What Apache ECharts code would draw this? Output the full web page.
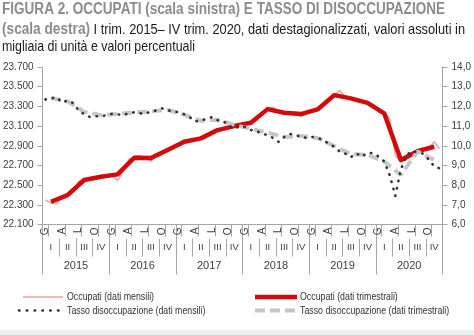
<!DOCTYPE html>
<html>
<head>
<meta charset="utf-8">
<script src="https://cdn.jsdelivr.net/npm/echarts@6/dist/echarts.min.js"></script>
<style>
  html, body { margin: 0; padding: 0; background: #fff; }
  #chart { width: 474px; height: 335px; }
</style>
</head>
<body>
<div id="chart"></div>
<script>
// Occupati (migliaia) e tasso di disoccupazione (%), gen 2015 - dic 2020
const years = ['2015', '2016', '2017', '2018', '2019', '2020'];
const quarterNames = ['I', 'II', 'III', 'IV'];
const monthLetters = ['G', 'F', 'M', 'A', 'M', 'G', 'L', 'A', 'S', 'O', 'N', 'D'];

// Occupati, dati mensili
const occupatiMensili = [
  22350, 22320, 22310, 22380, 22400, 22430, 22540, 22555, 22565, 22580, 22585, 22590,
  22610, 22545, 22640, 22760, 22790, 22800, 22780, 22740, 22800, 22830, 22860, 22880,
  22910, 22960, 22940, 22960, 22975, 22990, 23040, 23060, 23075, 23090, 23100, 23110,
  23120, 23135, 23160, 23230, 23280, 23290, 23240, 23235, 23230, 23230, 23195, 23235,
  23255, 23270, 23300, 23380, 23420, 23460, 23400, 23380, 23365, 23350, 23330, 23320,
  23240, 23245, 23170, 22800, 22735, 22760, 22810, 22850, 22880, 22880, 22940, 22870
];
// Occupati, dati trimestrali
const occupatiTrimestrali = [
  22331, 22399, 22552, 22585,
  22609, 22778, 22775, 22856,
  22940, 22975, 23059, 23100,
  23133, 23272, 23235, 23222,
  23269, 23414, 23381, 23336,
  23229, 22755, 22845, 22890
];
// Tasso di disoccupazione, dati mensili
const tassoMensili = [
  12.35, 12.40, 12.47, 12.20, 12.30, 12.17, 11.79, 11.60, 11.46, 11.50, 11.50, 11.55,
  11.62, 11.60, 11.55, 11.65, 11.70, 11.65, 11.62, 11.75, 11.79, 11.90, 11.80, 11.75,
  11.70, 11.60, 11.45, 11.23, 11.30, 11.35, 11.46, 11.30, 11.25, 11.05, 10.86, 11.00,
  10.95, 10.80, 10.75, 10.60, 10.55, 10.40, 10.20, 10.45, 10.60, 10.55, 10.45, 10.40,
  10.45, 10.40, 10.30, 10.10, 9.95, 9.70, 9.60, 9.42, 9.62, 9.45, 9.65, 9.62,
  9.45, 9.20, 8.50, 7.45, 8.80, 9.50, 9.75, 9.65, 9.60, 9.30, 8.95, 8.85
];
// Tasso di disoccupazione, dati trimestrali
const tassoTrimestrali = [
  12.41, 12.26, 11.72, 11.55,
  11.62, 11.69, 11.74, 11.83,
  11.57, 11.27, 11.32, 11.06,
  10.86, 10.67, 10.44, 10.50,
  10.39, 9.99, 9.57, 9.54,
  9.20, 8.52, 9.71, 9.28
];

const monthCats = [];
const quarterCats = [];
years.forEach(y => {
  monthLetters.forEach((m, i) => monthCats.push(m + ' ' + (i + 1) + ' ' + y));
  quarterNames.forEach(q => quarterCats.push(q + ' ' + y));
});
// quarterly values sit on the central month of each quarter
const onMidMonth = arr => arr.map((v, q) => [q * 3 + 1, v]);

const FAMILY = "'Liberation Sans', Arial, sans-serif";
const AXIS_GRAY = '#a6a6a6';
const LABEL = '#404040';

const C_PINK = '#e9a3a3';
const C_RED = '#d20a0a';
const C_GRAY = '#c6c6c6';
const C_DOT = '#333333';

// condensed look: squeeze a text line horizontally to a given width
const measureCtx = document.createElement('canvas').getContext('2d');
function textWidth(str, size, weight) {
  measureCtx.font = (weight || 'normal') + ' ' + size + 'px ' + FAMILY;
  return measureCtx.measureText(str).width;
}

const title1 = 'FIGURA 2. OCCUPATI (scala sinistra) E TASSO DI DISOCCUPAZIONE';
const title2b = '(scala destra)';
const title2n = ' I trim. 2015\u2013 IV trim. 2020, dati destagionalizzati, valori assoluti in';
const title3 = 'migliaia di unit\u00e0 e valori percentuali';

const s1 = 443 / textWidth(title1, 16, 'bold');
const s2 = 463 / (textWidth(title2b, 16, 'bold') + textWidth(title2n, 15));
const s3 = 193 / textWidth(title3, 15);

const legendFont = { fontFamily: FAMILY, fontSize: 11, fill: '#333333' };
const LEG_SCALE = 0.8;

function legendText(x, y, str) {
  return {
    type: 'text', x: x, y: y, scaleX: LEG_SCALE,
    style: Object.assign({ text: str, textVerticalAlign: 'middle', verticalAlign: 'middle' }, legendFont)
  };
}

const chart = echarts.init(document.getElementById('chart'), null, { renderer: 'canvas' });

chart.setOption({
  animation: false,
  backgroundColor: '#ffffff',
  textStyle: { fontFamily: FAMILY },
  graphic: [
    {
      type: 'text', x: 2, y: 2, scaleX: s1,
      style: { text: title1, fontFamily: FAMILY, fontWeight: 'bold', fontSize: 16, fill: '#8c8c8c' }
    },
    {
      type: 'text', x: 2, y: 22, scaleX: s2,
      style: {
        rich: {
          b: { fontFamily: FAMILY, fontWeight: 'bold', fontSize: 16, fill: '#8c8c8c' },
          n: { fontFamily: FAMILY, fontSize: 15, fill: '#1a1a1a' }
        },
        text: '{b|' + title2b + '}{n|' + title2n + '}'
      }
    },
    {
      type: 'text', x: 2, y: 39, scaleX: s3,
      style: { text: title3, fontFamily: FAMILY, fontSize: 15, fill: '#1a1a1a' }
    },
    // legend, left column
    { type: 'line', shape: { x1: 23, y1: 297, x2: 63, y2: 297 }, style: { stroke: C_PINK, lineWidth: 1.5 } },
    legendText(67, 297, 'Occupati (dati mensili)'),
    { type: 'line', shape: { x1: 19, y1: 310.5, x2: 63, y2: 310.5 },
      style: { stroke: C_DOT, lineWidth: 2.6, lineDash: [0.5, 7.3], lineCap: 'round' } },
    legendText(67, 310.5, 'Tasso disoccupazione (dati mensili)'),
    // legend, right column
    { type: 'line', shape: { x1: 255, y1: 297, x2: 297, y2: 297 }, style: { stroke: C_RED, lineWidth: 4.5 } },
    legendText(300, 297, 'Occupati (dati trimestrali)'),
    { type: 'line', shape: { x1: 255, y1: 310.5, x2: 297, y2: 310.5 },
      style: { stroke: C_GRAY, lineWidth: 4, lineDash: [10, 5] } },
    legendText(300, 310.5, 'Tasso disoccupazione (dati trimestrali)'),
    {
      type: 'rect', x: 0, y: 330,
      shape: { width: 474, height: 5 },
      style: { fill: '#ededed' }
    }
  ],
  grid: { left: 42, right: 31, top: 67, bottom: 110.5 },
  xAxis: [
    {
      type: 'category', data: monthCats, boundaryGap: true, position: 'bottom',
      axisLine: { show: true, lineStyle: { color: AXIS_GRAY, width: 1 } },
      axisTick: { show: true, length: 12, interval: i => i % 3 === 1, lineStyle: { color: AXIS_GRAY } },
      axisLabel: {
        interval: i => i % 3 === 0, rotate: 90, margin: 3,
        fontFamily: FAMILY, fontSize: 10, color: LABEL,
        formatter: v => v.charAt(0)
      },
      splitLine: { show: false }
    },
    {
      type: 'category', data: quarterCats, boundaryGap: true, position: 'bottom', offset: 14,
      axisLine: { show: false },
      axisTick: { show: true, length: 18, interval: 0, lineStyle: { color: AXIS_GRAY } },
      axisLabel: {
        interval: 0, margin: 4, fontFamily: FAMILY, fontSize: 9.5, color: LABEL,
        formatter: v => v.split(' ')[0]
      },
      splitLine: { show: false }
    },
    {
      type: 'category', data: years, boundaryGap: true, position: 'bottom', offset: 0,
      axisLine: { show: false },
      axisTick: { show: true, length: 50, interval: 0, lineStyle: { color: AXIS_GRAY } },
      axisLabel: { interval: 0, margin: 36, fontFamily: FAMILY, fontSize: 11, color: LABEL },
      splitLine: { show: false }
    }
  ],
  yAxis: [
    {
      type: 'value', min: 22100, max: 23700, interval: 200, position: 'left',
      axisLine: { show: true, lineStyle: { color: AXIS_GRAY } },
      axisTick: { show: true, length: 5, lineStyle: { color: AXIS_GRAY } },
      splitLine: { show: false },
      axisLabel: {
        margin: 9, fontFamily: FAMILY, fontSize: 10, color: LABEL,
        formatter: v => String(v).replace(/\B(?=(\d{3})+(?!\d))/g, '.')
      }
    },
    {
      type: 'value', min: 6, max: 14, interval: 1, position: 'right',
      axisLine: { show: true, lineStyle: { color: AXIS_GRAY } },
      axisTick: { show: true, length: 5, lineStyle: { color: AXIS_GRAY } },
      splitLine: { show: false },
      axisLabel: {
        margin: 9, fontFamily: FAMILY, fontSize: 10, color: LABEL,
        formatter: v => v.toFixed(1).replace('.', ',')
      }
    }
  ],
  series: [
    {
      name: 'Occupati (dati mensili)', type: 'line', xAxisIndex: 0, yAxisIndex: 0,
      data: occupatiMensili, symbol: 'none', z: 2,
      lineStyle: { color: C_PINK, width: 1.5 }
    },
    {
      name: 'Occupati (dati trimestrali)', type: 'line', xAxisIndex: 0, yAxisIndex: 0,
      data: onMidMonth(occupatiTrimestrali), symbol: 'none', z: 3,
      lineStyle: { color: C_RED, width: 4.5, join: 'round' }
    },
    {
      name: 'Tasso disoccupazione (dati trimestrali)', type: 'line', xAxisIndex: 0, yAxisIndex: 1,
      data: onMidMonth(tassoTrimestrali), symbol: 'none', z: 4,
      lineStyle: { color: C_GRAY, width: 4, type: [10, 5] }
    },
    {
      name: 'Tasso disoccupazione (dati mensili)', type: 'line', xAxisIndex: 0, yAxisIndex: 1,
      data: tassoMensili, symbol: 'none', z: 5,
      lineStyle: { color: C_DOT, width: 2.6, type: [0.5, 7], cap: 'round' }
    }
  ]
});
</script>
</body>
</html>
